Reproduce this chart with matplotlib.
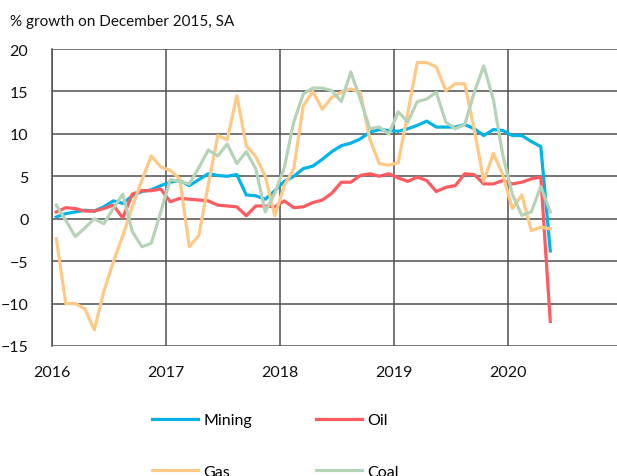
import numpy as np
import matplotlib
matplotlib.use('Agg')
import matplotlib.pyplot as plt

plt.rcParams['font.family'] = ['Lato', 'DejaVu Sans']

# monthly % growth on December 2015, Jan 2016 .. May 2020
months = np.arange(53)
mining = [0.2, 0.6, 0.8, 1.0, 0.9, 1.4, 2.1, 1.8, 2.7, 3.2, 3.4, 3.9, 4.3,
          4.5, 3.9, 4.6, 5.3, 5.1, 5.0, 5.2, 2.8, 2.7, 2.3, 3.3, 4.4, 5.0,
          5.9, 6.2, 7.0, 7.9, 8.6, 8.9, 9.4, 10.2, 10.5, 10.4, 10.3, 10.6,
          11.0, 11.5, 10.8, 10.8, 10.8, 11.1, 10.6, 9.8, 10.5, 10.4, 9.8,
          9.8, 9.1, 8.5, -3.8]
oil = [0.8, 1.3, 1.2, 0.9, 0.9, 1.2, 1.6, 0.1, 2.9, 3.3, 3.3, 3.5, 2.0,
       2.4, 2.3, 2.2, 2.1, 1.6, 1.5, 1.4, 0.35, 1.5, 1.5, 1.4, 2.1, 1.3,
       1.4, 1.9, 2.2, 3.0, 4.3, 4.3, 5.1, 5.3, 5.0, 5.3, 4.8, 4.4, 4.9,
       4.5, 3.2, 3.7, 3.9, 5.3, 5.2, 4.1, 4.1, 4.5, 4.1, 4.3, 4.7, 4.9,
       -12.1]
gas = [-2.35, -10.0, -10.0, -10.6, -13.1, -8.6, -5.1, -2.0, 1.4, 4.5, 7.4,
       6.1, 5.7, 4.7, -3.3, -2.0, 4.0, 9.8, 9.3, 14.5, 8.6, 7.3, 5.0, 0.35,
       3.9, 5.9, 13.3, 15.0, 12.9, 14.3, 14.9, 15.3, 14.9, 9.4, 6.5, 6.3,
       6.6, 12.5, 18.4, 18.4, 17.9, 15.1, 15.9, 15.9, 10.5, 4.4, 7.7, 5.2,
       1.2, 2.8, -1.4, -1.0, -1.2]
coal = [1.6, -0.2, -2.1, -1.1, 0.0, -0.6, 1.2, 2.9, -1.5, -3.3, -2.9, 0.8,
        4.6, 4.4, 4.1, 6.0, 8.1, 7.4, 8.8, 6.5, 7.9, 5.9, 0.8, 3.0, 6.0,
        11.4, 14.7, 15.4, 15.4, 15.1, 13.8, 17.3, 14.1, 10.6, 10.8, 10.0,
        12.6, 11.4, 13.8, 14.1, 14.9, 11.4, 10.6, 11.1, 14.9, 18.0, 14.1,
        7.5, 2.9, 0.4, 0.8, 3.8, 0.8]
years = [2016, 2017, 2018, 2019, 2020]

x = 2016 + (months + 0.45) / 12

fig = plt.figure(figsize=(6.17, 4.77), dpi=100)
ax = fig.add_axes([52 / 617, 1 - 347 / 477, 565 / 617, 297 / 477])

l_min, = ax.plot(x, mining, color='#00B3E8', lw=2.3, label='Mining')
l_oil, = ax.plot(x, oil, color='#FF5A5F', lw=2.3, label='Oil')
l_gas, = ax.plot(x, gas, color='#FFC985', lw=2.3, label='Gas')
l_coal, = ax.plot(x, coal, color='#B5D3B6', lw=2.3, label='Coal')

ax.set_xlim(2016, 2016 + 565 / 114)
ax.set_ylim(-15, 20)
ax.set_yticks(np.arange(-15, 21, 5))
ax.set_xticks(years)
ax.set_xticklabels([str(y) for y in years])
ax.grid(True, color='#505050', lw=1.1)
ax.set_axisbelow(True)
for s in ['top', 'right', 'bottom']:
    ax.spines[s].set_visible(False)
ax.spines['left'].set_color('#505050')
ax.spines['left'].set_linewidth(1.1)
ax.tick_params(length=0, labelsize=11.5, colors='#111111')
ax.tick_params(axis='x', pad=14)
ax.tick_params(axis='y', pad=17)

fig.text(10 / 617, 1 - 22 / 477, '% growth on December 2015, SA',
         fontsize=11, va='center', ha='left', color='#111111')

# legend filled row by row: Mining, Oil / Gas, Coal
fig.legend([l_min, l_gas, l_oil, l_coal], ['Mining', 'Gas', 'Oil', 'Coal'],
           loc='upper left', bbox_to_anchor=(152 / 617, 1 - 414 / 477),
           ncol=2, frameon=False, fontsize=11.5, handlelength=2.9,
           handletextpad=0.3, columnspacing=4.0, labelspacing=2.35,
           borderpad=0, borderaxespad=0)

fig.savefig('out.png', dpi=100)
